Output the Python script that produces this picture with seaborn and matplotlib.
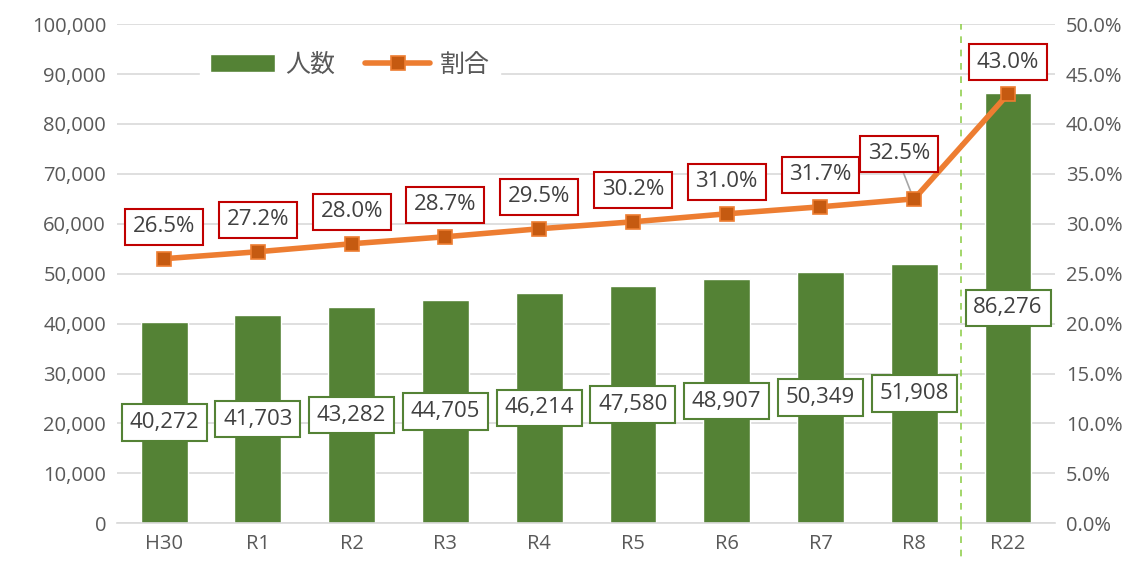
import matplotlib
matplotlib.use("Agg")
import matplotlib.pyplot as plt
import matplotlib.ticker as mticker
import seaborn as sns
import pandas as pd

# 年度ごとの人数と割合
years = ["H30", "R1", "R2", "R3", "R4", "R5", "R6", "R7", "R8", "R22"]
persons = [40272, 41703, 43282, 44705, 46214, 47580, 48907, 50349, 51908, 86276]
ratio = [26.5, 27.2, 28.0, 28.7, 29.5, 30.2, 31.0, 31.7, 32.5, 43.0]

GREEN = "#548235"
ORANGE = "#ED7D31"
DARK_ORANGE = "#C55A11"
RED = "#C00000"
GRAY = "#595959"

sns.set_theme(style="white")
plt.rcParams["font.family"] = ["Open Sans", "Noto Sans CJK JP", "DejaVu Sans"]

df = pd.DataFrame({"year": years, "persons": persons, "ratio": ratio})

fig, ax = plt.subplots(figsize=(11.38, 5.62), dpi=100)
fig.subplots_adjust(left=0.103, right=0.927, top=0.957, bottom=0.069)

sns.barplot(data=df, x="year", y="persons", color=GREEN, width=0.5,
            saturation=1, ax=ax, zorder=2, label="人数")
if ax.get_legend() is not None:
    ax.get_legend().remove()
ax.set_ylim(0, 100000)
ax.set_xlim(-0.5, len(years) - 0.5)
ax.yaxis.set_major_locator(mticker.MultipleLocator(10000))
ax.yaxis.set_major_formatter(mticker.FuncFormatter(lambda v, p: f"{int(v):,}"))
ax.grid(axis="y", color="#D9D9D9", linewidth=1.2, zorder=0)
ax.set_axisbelow(True)
for s in ["top", "right", "left"]:
    ax.spines[s].set_visible(False)
ax.spines["bottom"].set_color("#D9D9D9")
ax.spines["bottom"].set_linewidth(1.2)
ax.set_xlabel("")
ax.set_ylabel("")
ax.tick_params(axis="both", length=0, labelsize=14.5, labelcolor=GRAY, pad=8)

# 棒の中央に人数ラベル
for i, v in enumerate(persons):
    ax.text(i, v / 2, f"{v:,}", ha="center", va="center", fontsize=16,
            color="#404040", zorder=5,
            bbox=dict(boxstyle="square,pad=0.35", fc="white", ec=GREEN, lw=1.5))

ax2 = ax.twinx()
ax2.plot(range(len(years)), ratio, color=ORANGE, lw=4, marker="s",
         markersize=10, markerfacecolor=DARK_ORANGE, markeredgecolor=ORANGE,
         markeredgewidth=1.2, zorder=4, label="割合")
ax2.set_ylim(0, 50)
ax2.yaxis.set_major_locator(mticker.MultipleLocator(5))
ax2.yaxis.set_major_formatter(mticker.FuncFormatter(lambda v, p: f"{v:.1f}%"))
for s in ["top", "right", "left", "bottom"]:
    ax2.spines[s].set_visible(False)
ax2.tick_params(axis="y", length=0, labelsize=14.5, labelcolor=GRAY, pad=8)

# 割合ラベル
for i, v in enumerate(ratio):
    if i == 8:
        xy_text = (i - 0.16, v + 4.5)
        ax2.annotate("", xy=(i - 0.02, v + 0.3), xytext=(i - 0.14, v + 3.2),
                     arrowprops=dict(arrowstyle="-", color="#A6A6A6", lw=1.2))
    else:
        xy_text = (i, v + 3.2)
    ax2.text(xy_text[0], xy_text[1], f"{v:.1f}%", ha="center", va="center",
             fontsize=16, color="#404040", zorder=6,
             bbox=dict(boxstyle="square,pad=0.35", fc="white", ec=RED, lw=1.5))

# R8 と R22 の間の区切り線
ax.axvline(8.5, ymin=0, ymax=1.0, color="#92D050", ls=(0, (4, 4)), lw=1.2,
           zorder=3, clip_on=False)
ax.plot([8.5, 8.5], [0, -8000], color="#92D050", ls=(0, (4, 4)), lw=1.2,
        clip_on=False, zorder=3)

h1, l1 = ax.get_legend_handles_labels()
h2, l2 = ax2.get_legend_handles_labels()
leg = ax2.legend(h1 + h2, l1 + l2, loc="upper left", bbox_to_anchor=(0.075, 0.99),
                 ncol=2, frameon=True, fancybox=False, edgecolor="white",
                 framealpha=1, handlelength=2.6, handletextpad=0.4,
                 columnspacing=1.2,
                 prop={"family": ["Noto Sans CJK JP"], "size": 18})
for t in leg.get_texts():
    t.set_color(GRAY)

fig.savefig("out.png", dpi=100)
